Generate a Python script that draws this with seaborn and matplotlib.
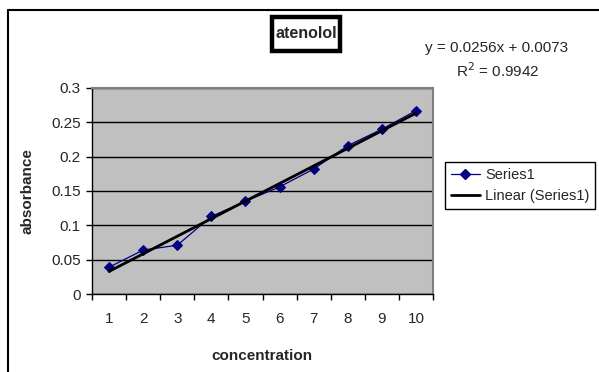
import matplotlib
matplotlib.use("Agg")
import matplotlib.pyplot as plt
import seaborn as sns
import pandas as pd
from matplotlib.lines import Line2D
from matplotlib.patches import Rectangle

concentration = [1, 2, 3, 4, 5, 6, 7, 8, 9, 10]
absorbance = [0.039, 0.064, 0.071, 0.113, 0.135, 0.156, 0.182, 0.216, 0.240, 0.267]
slope = 0.0256
intercept = 0.0073
r_squared = 0.9942
y_ticks = [0, 0.05, 0.1, 0.15, 0.2, 0.25, 0.3]
y_tick_labels = ["0", "0.05", "0.1", "0.15", "0.2", "0.25", "0.3"]

df = pd.DataFrame({"concentration": concentration, "absorbance": absorbance})
df["trend"] = [slope * c + intercept for c in concentration]

sns.set_style("white")
plt.rcParams["font.family"] = ["Liberation Sans", "DejaVu Sans"]

W, H = 599, 372
fig = plt.figure(figsize=(W / 100, H / 100), dpi=100)
L, R, T, B = 92, 433, 88, 294
ax = fig.add_axes([L / W, 1 - B / H, (R - L) / W, (B - T) / H])
ax.set_facecolor("#C0C0C0")

for t in y_ticks:
    ax.axhline(t, color="black", lw=1, zorder=0.5)

sns.lineplot(data=df, x="concentration", y="absorbance", ax=ax, color="#000080",
             lw=0.9, marker="D", markersize=5, markeredgecolor="#000080", zorder=3)
sns.lineplot(data=df, x="concentration", y="trend", ax=ax, color="black", lw=2, zorder=4)

ax.set_xlim(0.5, 10.5)
ax.set_ylim(0, 0.3)
ax.set_yticks(y_ticks)
ax.set_yticklabels(y_tick_labels, fontsize=11)
ax.set_xticks(concentration)
ax.set_xticklabels([str(c) for c in concentration], fontsize=11)
ax.tick_params(axis="x", length=0, pad=13)
ax.set_xticks([c - 0.5 for c in concentration] + [10.5], minor=True)
ax.tick_params(axis="x", which="minor", length=4, width=1, direction="out", color="black", bottom=True)
ax.tick_params(axis="y", length=4, width=1, direction="out", color="black", left=True, pad=4)

for s in ["left", "bottom"]:
    ax.spines[s].set_color("black")
    ax.spines[s].set_linewidth(1)
for s in ["top", "right"]:
    ax.spines[s].set_color("#808080")
    ax.spines[s].set_linewidth(1.5)

ax.set_xlabel("concentration", fontsize=11, fontweight="bold")
ax.set_ylabel("absorbance", fontsize=11, fontweight="bold")
ax.xaxis.set_label_coords((262 - L) / (R - L), (B - 349) / (B - T))
ax.yaxis.set_label_coords((34 - L) / (R - L), 0.5)

# title box
fig.add_artist(Rectangle((272 / W, 1 - 51 / H), 68 / W, 34 / H, transform=fig.transFigure,
                         facecolor="white", edgecolor="black", linewidth=3.2))
fig.text(306 / W, 1 - 34 / H, "atenolol", ha="center", va="center", fontsize=11.5,
         fontweight="bold")

# equation
fig.text(497 / W, 1 - 48 / H, "y = %.4fx + %.4f" % (slope, intercept), ha="center", va="center", fontsize=11)
fig.text(498 / W, 1 - 71 / H, "R$^{2}$ = %.4f" % r_squared, ha="center", va="center", fontsize=11)

# outer frame
fig.add_artist(Line2D([8 / W, 8 / W], [0, 1 - 10 / H], transform=fig.transFigure, color="black", lw=1.5))
fig.add_artist(Line2D([8 / W, 1], [1 - 10 / H, 1 - 10 / H], transform=fig.transFigure, color="black", lw=1.5))

handles = [
    Line2D([], [], color="#000080", lw=0.9, marker="D", markersize=5),
    Line2D([], [], color="black", lw=2),
]
leg = fig.legend(handles, ["Series1", "Linear (Series1)"], loc="upper left",
                 bbox_to_anchor=(445 / W, 1 - 162 / H), fontsize=10.5, frameon=True,
                 fancybox=False, edgecolor="black", framealpha=1, borderaxespad=0,
                 handlelength=2.0, handletextpad=0.35, borderpad=0.4, labelspacing=0.5)
leg.get_frame().set_linewidth(1)

fig.savefig("out.png", dpi=100)
